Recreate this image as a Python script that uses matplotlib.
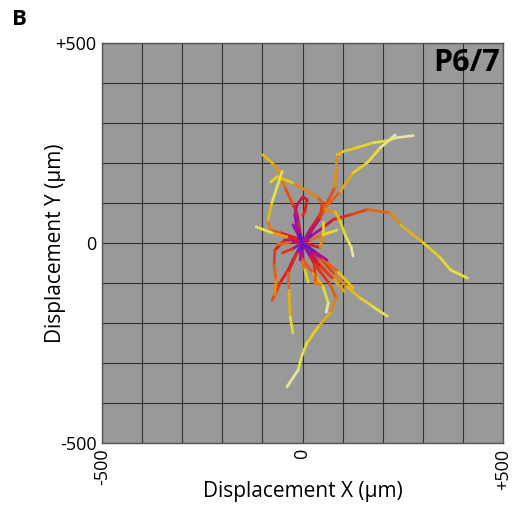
import numpy as np
import matplotlib
matplotlib.use('Agg')
import matplotlib.pyplot as plt
from matplotlib.collections import LineCollection
from matplotlib.colors import LinearSegmentedColormap

plt.rcParams['font.family'] = ['Open Sans', 'DejaVu Sans']

# Cell tracks (displacement from start, um), end time as fraction of movie
track_ne_a_x = [0, 20, 56, 81, 86, 101, 136, 176, 211, 236, 276]
track_ne_a_y = [0, 35, 90, 140, 220, 228, 238, 250, 255, 263, 268]
track_ne_b_x = [0, 20, 51, 94, 126, 161, 194, 224, 231]
track_ne_b_y = [0, 25, 83, 128, 175, 200, 238, 263, 270]
track_east_x = [0, 25, 51, 76, 119, 161, 219, 244, 301, 344, 369, 411]
track_east_y = [0, 20, 38, 58, 70, 83, 75, 45, 0, -38, -68, -88]
track_hook_x = [0, 31, 56, 81, 94, 106, 121, 126]
track_hook_y = [0, 45, 83, 78, 53, 20, -10, -33]
track_nw_x = [0, -6, -14, -26, -44, -56, -76, -99]
track_nw_y = [0, 25, 75, 100, 138, 175, 200, 220]
track_arc_x = [0, 44, 49, 36, -24, -64, -79]
track_arc_y = [0, 62, 102, 115, 150, 165, 152]
track_north_x = [0, -14, -56, -81, -86, -76, -51]
track_north_y = [0, 12, 25, 32, 57, 102, 178]
track_west_pale_x = [0, -39, -76, -116]
track_west_pale_y = [0, 15, 25, 40]
track_red_loop_x = [0, -24, -36, -56, -69, -76, -72]
track_red_loop_y = [0, -43, -68, -100, -130, -143, -135]
track_sw_orange_x = [0, -44, -69, -71, -66, -69]
track_sw_orange_y = [0, 7, -18, -55, -93, -130]
track_sw_yellow_x = [0, -14, -36, -34, -31, -24]
track_sw_yellow_y = [0, -25, -75, -118, -185, -225]
track_south_long_x = [0, 31, 69, 84, 69, 39, 11, -1, -11, -39]
track_south_long_y = [0, -55, -105, -138, -175, -210, -250, -280, -318, -360]
track_south_pale_x = [0, 1, 26, 51, 64, 59]
track_south_pale_y = [0, -43, -75, -110, -150, -173]
track_se_yellow_x = [0, 44, 81, 111, 144, 176, 211]
track_se_yellow_y = [0, -38, -80, -110, -138, -160, -183]
track_red_short_x = [0, 26, 31, 31, 44]
track_red_short_y = [0, -30, -75, -100, -105]
track_se_orange_a_x = [0, 39, 74, 106]
track_se_orange_a_y = [0, -48, -88, -123]
track_se_orange_b_x = [0, 49, 89, 126]
track_se_orange_b_y = [0, -38, -73, -113]
track_magenta_x = [0, -14, -19, -14, 1, 11, 6, 0]
track_magenta_y = [0, 32, 70, 95, 115, 108, 78, 68]
track_east_short_x = [0, 19, 50, 86]
track_east_short_y = [0, 7, 20, 32]
track_vert_x = [0, 44, 51, 51]
track_vert_y = [0, -12, 20, 52]
track_west_orange_x = [0, -30, -64]
track_west_orange_y = [0, 2, -5]
track_west_red_x = [0, -25, -50]
track_west_red_y = [0, -15, -25]
track_purple_se_x = [0, 30, 61]
track_purple_se_y = [0, -22, -43]
track_purple_s_x = [0, -3, -6]
track_purple_s_y = [0, -20, -43]
track_purple_nw_x = [0, -12, -24]
track_purple_nw_y = [0, 22, 45]
track_down_short_x = [0, -6, 6, 14]
track_down_short_y = [0, -30, -68, -98]
track_red_se_x = [0, 20, 45, 74]
track_red_se_y = [0, -35, -60, -88]

tracks = [
    (track_ne_a_x, track_ne_a_y, 1.0),
    (track_ne_b_x, track_ne_b_y, 1.0),
    (track_east_x, track_east_y, 0.85),
    (track_hook_x, track_hook_y, 1.0),
    (track_nw_x, track_nw_y, 0.6),
    (track_arc_x, track_arc_y, 0.7),
    (track_north_x, track_north_y, 1.0),
    (track_west_pale_x, track_west_pale_y, 1.0),
    (track_red_loop_x, track_red_loop_y, 0.3),
    (track_sw_orange_x, track_sw_orange_y, 0.5),
    (track_sw_yellow_x, track_sw_yellow_y, 0.8),
    (track_south_long_x, track_south_long_y, 1.0),
    (track_south_pale_x, track_south_pale_y, 1.0),
    (track_se_yellow_x, track_se_yellow_y, 0.9),
    (track_red_short_x, track_red_short_y, 0.45),
    (track_se_orange_a_x, track_se_orange_a_y, 0.6),
    (track_se_orange_b_x, track_se_orange_b_y, 0.7),
    (track_east_short_x, track_east_short_y, 0.95),
    (track_vert_x, track_vert_y, 0.8),
    (track_west_orange_x, track_west_orange_y, 0.5),
    (track_down_short_x, track_down_short_y, 0.8),
    (track_west_red_x, track_west_red_y, 0.3),
    (track_red_se_x, track_red_se_y, 0.3),
    (track_magenta_x, track_magenta_y, 0.2),
    (track_purple_se_x, track_purple_se_y, 0.1),
    (track_purple_s_x, track_purple_s_y, 0.1),
    (track_purple_nw_x, track_purple_nw_y, 0.1),
]

# time colour scale: blue -> purple -> red -> orange -> yellow -> pale
time_cmap = LinearSegmentedColormap.from_list('time', [
    (0.0, '#2a20e0'), (0.06, '#9a10b8'), (0.15, '#e01818'),
    (0.38, '#e46a10'), (0.6, '#e2c812'), (0.82, '#e6e040'),
    (1.0, '#e6e4c8')])

fig = plt.figure(figsize=(5.15, 5.15), dpi=100)
ax = fig.add_axes([0.198, 0.140, 0.779, 0.777])
ax.set_facecolor('#999999')

for xs, ys, t_end in tracks:
    pts = np.column_stack([xs, ys]).astype(float)
    segs = np.stack([pts[:-1], pts[1:]], axis=1)
    seg_len = np.hypot(*(pts[1:] - pts[:-1]).T)
    cum = np.concatenate([[0], np.cumsum(seg_len)])
    mid = (cum[:-1] + cum[1:]) / 2 / cum[-1]
    lc = LineCollection(segs, colors=time_cmap(mid * t_end), linewidths=2.0,
                        capstyle='round', joinstyle='round')
    ax.add_collection(lc)

ax.set_xlim(-500, 500)
ax.set_ylim(-500, 500)

grid_ticks = np.arange(-500, 501, 100)
tick_labels = ['-500' if t == -500 else '0' if t == 0 else '+500' if t == 500 else ''
               for t in grid_ticks]
ax.set_xticks(grid_ticks)
ax.set_yticks(grid_ticks)
ax.set_xticklabels(tick_labels, rotation=90, fontsize=13)
ax.set_yticklabels(tick_labels, fontsize=13)
ax.tick_params(length=0, pad=4)
ax.grid(True, color='#333333', linewidth=0.8)
ax.set_axisbelow(True)
for s in ax.spines.values():
    s.set_color('#555555')
    s.set_linewidth(1.0)

ax.set_xlabel('Displacement X (\u00b5m)', fontsize=15)
ax.set_ylabel('Displacement Y (\u00b5m)', fontsize=15)
ax.xaxis.set_label_coords(0.5, -0.1225)
ax.yaxis.set_label_coords(-0.117, 0.5)
ax.xaxis.label.set_va('center')
ax.yaxis.label.set_va('center')

ax.text(0.993, 0.987, 'P6/7', transform=ax.transAxes, ha='right', va='top',
        fontsize=22, fontweight='bold')
fig.text(0.023, 0.963, 'B', fontsize=16, fontweight='bold', va='center', ha='left')

fig.savefig('out.png', dpi=100)
